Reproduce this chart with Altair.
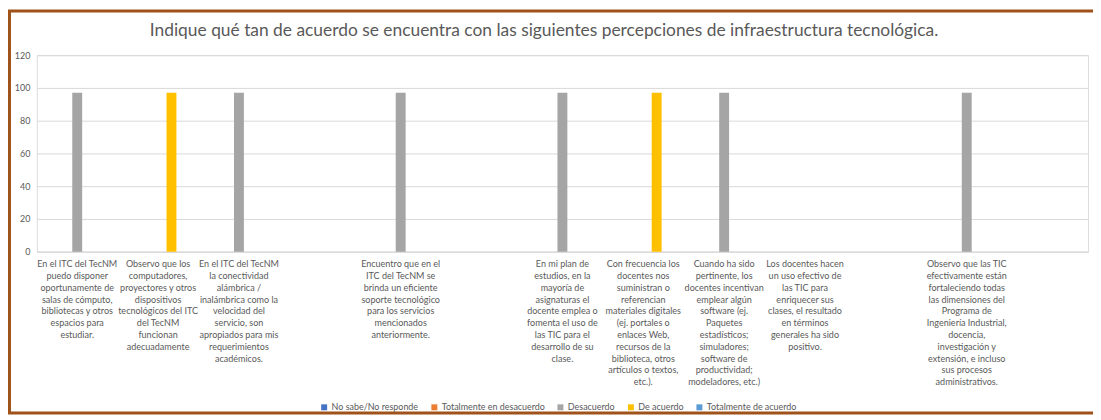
import altair as alt
import pandas as pd

FONT = "Lato"
TXT = "#595959"

categories = [
    "En el ITC del TecNM\npuedo disponer\noportunamente de\nsalas de cómputo,\nbibliotecas y otros\nespacios para\nestudiar.",
    "Observo que los\ncomputadores,\nproyectores y otros\ndispositivos\ntecnológicos del ITC\ndel TecNM\nfuncionan\nadecuadamente",
    "En el ITC del TecNM\nla conectividad\nalámbrica /\ninalámbrica como la\nvelocidad del\nservicio, son\napropiados para mis\nrequerimientos\nacadémicos.",
    " ",
    "Encuentro que en el\nITC del TecNM se\nbrinda un eficiente\nsoporte tecnológico\npara los servicios\nmencionados\nanteriormente.",
    "  ",
    "En mi plan de\nestudios, en la\nmayoría de\nasignaturas el\ndocente emplea o\nfomenta el uso de\nlas TIC para el\ndesarrollo de su\nclase.",
    "Con frecuencia los\ndocentes nos\nsuministran o\nreferencian\nmateriales digitales\n(ej. portales o\nenlaces Web,\nrecursos de la\nbiblioteca, otros\nartículos o textos,\netc.).",
    "Cuando ha sido\npertinente, los\ndocentes incentivan\nemplear algún\nsoftware (ej.\nPaquetes\nestadísticos;\nsimuladores;\nsoftware de\nproductividad;\nmodeladores, etc.)",
    "Los docentes hacen\nun uso efectivo de\nlas TIC para\nenriquecer sus\nclases, el resultado\nen términos\ngenerales ha sido\npositivo.",
    "   ",
    "Observo que las TIC\nefectivamente están\nfortaleciendo todas\nlas dimensiones del\nPrograma de\nIngeniería Industrial,\ndocencia,\ninvestigación y\nextensión, e incluso\nsus procesos\nadministrativos.",
    "    ",
]

series = ["No sabe/No responde", "Totalmente en desacuerdo", "Desacuerdo",
          "De acuerdo", "Totalmente de acuerdo"]
colors = ["#4472C4", "#ED7D31", "#A5A5A5", "#FFC000", "#5B9BD5"]

# bars present (category index, series, value)
bar_cat_idx = [0, 1, 2, 4, 6, 7, 8, 11]
bar_series = ["Desacuerdo", "De acuerdo", "Desacuerdo", "Desacuerdo",
              "Desacuerdo", "De acuerdo", "Desacuerdo", "Desacuerdo"]
bar_values = [97, 97, 97, 97, 97, 97, 97, 97]

y_ticks = [0, 20, 40, 60, 80, 100, 120]

title_text = ("Indique qué tan de acuerdo se encuentra con las siguientes "
              "percepciones de infraestructura tecnológica.")

df = pd.DataFrame({
    "cat": [categories[i] for i in bar_cat_idx],
    "series": bar_series,
    "value": bar_values,
})

bars = alt.Chart(df).mark_bar().encode(
    x=alt.X("cat:N",
            scale=alt.Scale(domain=categories, paddingInner=0.172, paddingOuter=0.086),
            axis=alt.Axis(title=None, labelExpr="split(datum.label, '\\n')",
                          labelAngle=0, labelLimit=0, ticks=False, grid=False,
                          domainColor="#D9D9D9", domainWidth=1,
                          labelPadding=8, labelBaseline="top", labelAlign="center",
                          labelLineHeight=11.9, labelFontSize=9.1, labelColor=TXT,
                          labelFont=FONT)),
    xOffset=alt.XOffset("series:N",
                        scale=alt.Scale(domain=series, paddingInner=0.26, paddingOuter=0.13)),
    y=alt.Y("value:Q",
            scale=alt.Scale(domain=[0, 120]),
            axis=alt.Axis(values=y_ticks, title=None, domain=False, ticks=False,
                          gridColor="#D9D9D9", labelPadding=7, labelFontSize=9,
                          labelColor=TXT, labelFont=FONT)),
    color=alt.Color("series:N",
                    scale=alt.Scale(domain=series, range=colors),
                    legend=alt.Legend(title=None, orient="none", legendX=285, legendY=350,
                                      direction="horizontal", symbolType="square",
                                      symbolSize=36, symbolStrokeWidth=0,
                                      labelFontSize=9, labelColor=TXT, labelFont=FONT,
                                      labelOffset=3, columnPadding=11)),
)

border = alt.Chart(pd.DataFrame({"k": [0]})).mark_rect(
    filled=False, stroke="#A0521B", strokeWidth=3
).encode(
    x=alt.value(-27.5), x2=alt.value(1075),
    y=alt.value(-44.5), y2=alt.value(360.5),
)

title = alt.Chart(pd.DataFrame({"t": [title_text]})).mark_text(
    font=FONT, fontSize=17.5, color=TXT, align="center", baseline="middle"
).encode(text="t:N", x=alt.value(511), y=alt.value(-24))

chart = alt.layer(bars, border, title).properties(
    width=1059, height=198,
    autosize=alt.AutoSizeParams(type="none"),
    padding={"left": 29, "top": 46, "right": 5, "bottom": 166},
).configure_view(stroke=None).configure(background="white")

chart.save("out.html", embed_options={"renderer": "svg", "actions": False})
